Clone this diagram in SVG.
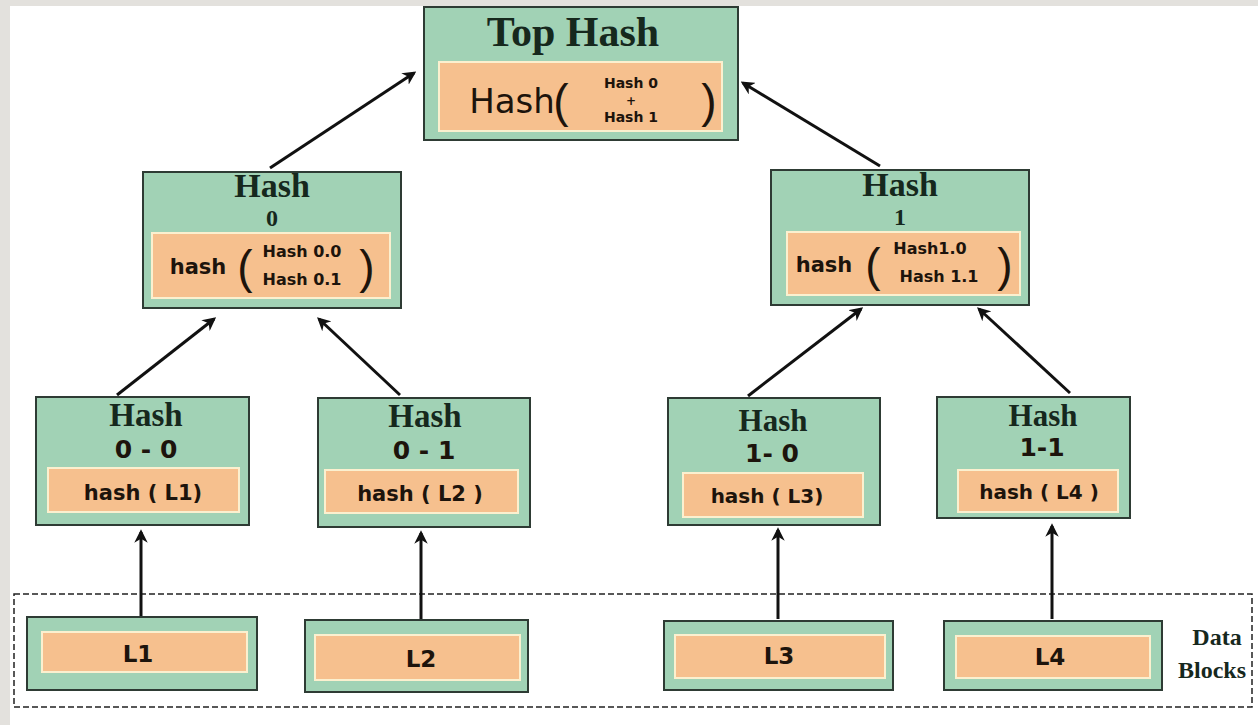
<svg xmlns="http://www.w3.org/2000/svg" width="1258" height="725" viewBox="0 0 1258 725">
<defs>
<marker id="ah" viewBox="0 0 10 10" refX="8" refY="5" markerWidth="4.5" markerHeight="4.5" orient="auto" markerUnits="strokeWidth">
<path d="M0,0 L10,5 L0,10 L3,5 Z" fill="#111"/>
</marker>
<style>
.g{fill:#a1d2b5;stroke:#2e3b34;stroke-width:2}
.o{fill:#f6c08e;stroke:#fbf0cf;stroke-width:2}
.ser{font-family:"Liberation Serif",serif;font-weight:bold;fill:#16281d;text-anchor:middle}
.sans{font-family:"DejaVu Sans","Liberation Sans",sans-serif;font-weight:bold;fill:#1d140c;text-anchor:middle}
.br{font-family:"Liberation Sans",sans-serif;fill:#1d140c;text-anchor:middle}
.c{stroke:#111;stroke-width:3;fill:none;marker-end:url(#ah)}
</style>
</defs>
<rect x="0" y="0" width="1258" height="725" fill="#ffffff"/>
<rect x="0" y="0" width="1258" height="6" fill="#e3e1dd"/>
<rect x="0" y="0" width="10" height="725" fill="#e3e1dd"/>

<rect id="datablocks" x="14" y="594" width="1238" height="113" fill="none" stroke="#222" stroke-width="1.5" stroke-dasharray="6 3"/>

<g id="connectors">
<line class="c" x1="270" y1="168" x2="414" y2="73"/>
<line class="c" x1="880" y1="166" x2="743" y2="83"/>
<line class="c" x1="117" y1="395" x2="214" y2="319"/>
<line class="c" x1="400" y1="395" x2="319" y2="319"/>
<line class="c" x1="748" y1="396" x2="861" y2="309"/>
<line class="c" x1="1070" y1="393" x2="979" y2="309"/>
<line class="c" x1="141" y1="617" x2="141" y2="532"/>
<line class="c" x1="421" y1="620" x2="421" y2="533"/>
<line class="c" x1="778" y1="619" x2="778" y2="530"/>
<line class="c" x1="1052" y1="619" x2="1052" y2="526"/>
</g>

<g id="tophash">
<rect class="g" x="424" y="7" width="314" height="133"/>
<rect class="o" x="439" y="62" width="283" height="69"/>
<text class="ser" x="573" y="46" font-size="42">Top Hash</text>
<text font-family="'DejaVu Sans','Liberation Sans',sans-serif" font-size="34" fill="#1d140c" text-anchor="middle" x="512" y="113">Hash</text>
<text class="br" x="561" y="117" font-size="46">(</text>
<text class="br" x="709" y="117" font-size="46">)</text>
<text class="sans" x="631" y="88" font-size="14">Hash 0</text>
<text class="sans" x="631" y="105" font-size="12">+</text>
<text class="sans" x="631" y="122" font-size="14">Hash 1</text>
</g>

<g id="hash0">
<rect class="g" x="143" y="172" width="258" height="136"/>
<rect class="o" x="152" y="233" width="238" height="65"/>
<text class="ser" x="272" y="197" font-size="34">Hash</text>
<text class="ser" x="272" y="226" font-size="24">0</text>
<text class="sans" x="198" y="274" font-size="21">hash</text>
<text class="br" x="245" y="283" font-size="46">(</text>
<text class="sans" x="302" y="257" font-size="16">Hash 0.0</text>
<text class="sans" x="302" y="285" font-size="16">Hash 0.1</text>
<text class="br" x="367" y="283" font-size="46">)</text>
</g>

<g id="hash1">
<rect class="g" x="771" y="170" width="258" height="135"/>
<rect class="o" x="787" y="232" width="233" height="63"/>
<text class="ser" x="900" y="196" font-size="34">Hash</text>
<text class="ser" x="900" y="225" font-size="24">1</text>
<text class="sans" x="824" y="272" font-size="21">hash</text>
<text class="br" x="873" y="281" font-size="46">(</text>
<text class="sans" x="930" y="254" font-size="16">Hash1.0</text>
<text class="sans" x="939" y="282" font-size="16">Hash 1.1</text>
<text class="br" x="1005" y="281" font-size="46">)</text>
</g>

<g id="hash00">
<rect class="g" x="36" y="397" width="213" height="128"/>
<rect class="o" x="48" y="468" width="191" height="44"/>
<text class="ser" x="146" y="426" font-size="33">Hash</text>
<text class="sans" x="146" y="458" font-size="25">0 - 0</text>
<text class="sans" x="143" y="500" font-size="21">hash ( L1)</text>
</g>

<g id="hash01">
<rect class="g" x="318" y="398" width="212" height="129"/>
<rect class="o" x="325" y="470" width="193" height="43"/>
<text class="ser" x="425" y="427" font-size="33">Hash</text>
<text class="sans" x="424" y="459" font-size="25">0 - 1</text>
<text class="sans" x="420" y="501" font-size="21">hash ( L2 )</text>
</g>

<g id="hash10">
<rect class="g" x="668" y="398" width="212" height="127"/>
<rect class="o" x="683" y="473" width="180" height="44"/>
<text class="ser" x="773" y="431" font-size="31">Hash</text>
<text class="sans" x="772" y="462" font-size="25">1- 0</text>
<text class="sans" x="767" y="503" font-size="20">hash ( L3)</text>
</g>

<g id="hash11">
<rect class="g" x="937" y="397" width="193" height="121"/>
<rect class="o" x="958" y="470" width="160" height="42"/>
<text class="ser" x="1043" y="426" font-size="31">Hash</text>
<text class="sans" x="1042" y="456" font-size="25">1-1</text>
<text class="sans" x="1039" y="499" font-size="20">hash ( L4 )</text>
</g>

<g id="L1">
<rect class="g" x="27" y="617" width="230" height="73"/>
<rect class="o" x="42" y="632" width="205" height="40"/>
<text class="sans" x="138" y="662" font-size="23">L1</text>
</g>
<g id="L2">
<rect class="g" x="305" y="620" width="223" height="72"/>
<rect class="o" x="315" y="635" width="205" height="45"/>
<text class="sans" x="421" y="667" font-size="23">L2</text>
</g>
<g id="L3">
<rect class="g" x="664" y="621" width="229" height="69"/>
<rect class="o" x="675" y="635" width="210" height="43"/>
<text class="sans" x="779" y="664" font-size="23">L3</text>
</g>
<g id="L4">
<rect class="g" x="944" y="621" width="218" height="69"/>
<rect class="o" x="956" y="636" width="194" height="42"/>
<text class="sans" x="1050" y="665" font-size="23">L4</text>
</g>

<g id="label">
<text class="ser" x="1217" y="645" font-size="24">Data</text>
<text class="ser" x="1212" y="678" font-size="24">Blocks</text>
</g>
</svg>
